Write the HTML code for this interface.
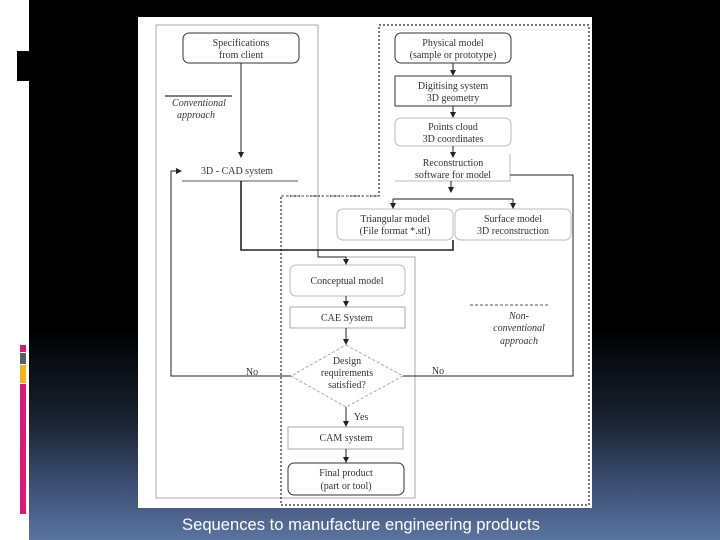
<!DOCTYPE html>
<html><head><meta charset="utf-8"><style>
html,body{margin:0;padding:0}
body{width:720px;height:540px;overflow:hidden;position:relative;background:#fff;font-family:"Liberation Serif",serif}
#bg{position:absolute;left:29px;top:0;width:691px;height:540px;background:linear-gradient(to bottom,#000 0px,#000 330px,#1a2230 420px,#3a4b6e 480px,#5a74a0 540px)}
.bar{position:absolute;left:20px;width:6px}
#cap{position:absolute;left:0;width:722px;top:515px;text-align:center;color:#fff;font-family:"Liberation Sans",sans-serif;font-size:16.6px}
svg{position:absolute;left:0;top:0}
text{font-family:"Liberation Serif",serif;font-size:10px;fill:#333;text-anchor:middle}
</style></head><body>
<div id="bg"></div>
<div style="position:absolute;left:17px;top:51px;width:12px;height:30px;background:#000"></div>
<div class="bar" style="top:345px;height:7px;background:#d81b77"></div>
<div class="bar" style="top:353px;height:11px;background:#5a5e66"></div>
<div class="bar" style="top:365px;height:18px;background:#f0b41e"></div>
<div class="bar" style="top:384px;height:130px;background:#d81b77"></div>
<svg width="720" height="540" viewBox="0 0 720 540">
<defs><marker id="a" markerWidth="6" markerHeight="6" refX="5" refY="3" orient="auto"><path d="M0,0L6,3L0,6z" fill="#222"/></marker></defs>
<rect x="138" y="17" width="454" height="491" fill="#fff"/>
<path d="M318,25H156V498H415V257H318V25" fill="none" stroke="#aaa" stroke-width="1"/>
<path d="M379,25H589V505H281V196H379Z" fill="none" stroke="#222" stroke-width="1.2" stroke-dasharray="2,2"/>
<path d="M281,196H379" fill="none" stroke="#777" stroke-dasharray="3,2"/>
<rect x="183" y="33" width="116" height="30" rx="6" fill="#fff" stroke="#333"/>
<text x="241" y="46">Specifications</text><text x="241" y="58">from client</text>
<rect x="395" y="33" width="116" height="30" rx="6" fill="#fff" stroke="#333"/>
<text x="453" y="46">Physical model</text><text x="453" y="58">(sample or prototype)</text>
<rect x="395" y="76" width="116" height="30" fill="#fff" stroke="#333"/>
<text x="453" y="89">Digitising system</text><text x="453" y="101">3D geometry</text>
<rect x="395" y="118" width="116" height="28" rx="6" fill="#fff" stroke="#bbb"/>
<text x="453" y="130">Points cloud</text><text x="453" y="142">3D coordinates</text>
<path d="M395,181H510V154" fill="none" stroke="#bbb"/>
<text x="453" y="166">Reconstruction</text><text x="453" y="178">software for model</text>
<rect x="337" y="209" width="116" height="31" rx="6" fill="#fff" stroke="#bbb"/>
<text x="395" y="222">Triangular model</text><text x="395" y="234">(File format *.stl)</text>
<rect x="455" y="209" width="116" height="31" rx="6" fill="#fff" stroke="#bbb"/>
<text x="513" y="222">Surface model</text><text x="513" y="234">3D reconstruction</text>
<rect x="290" y="265" width="115" height="31" rx="6" fill="#fff" stroke="#bbb"/>
<text x="347" y="284">Conceptual model</text>
<rect x="290" y="307" width="115" height="21" fill="#fff" stroke="#aaa"/>
<text x="347" y="321">CAE System</text>
<path d="M346,345L403,376L346,407L291,376Z" fill="#fff" stroke="#aaa" stroke-dasharray="3,2"/>
<text x="347" y="364">Design</text><text x="347" y="376">requirements</text><text x="347" y="388">satisfied?</text>
<rect x="288" y="427" width="115" height="22" fill="#fff" stroke="#aaa"/>
<text x="346" y="441">CAM system</text>
<rect x="288" y="463" width="116" height="32" rx="6" fill="#fff" stroke="#333"/>
<text x="346" y="476">Final product</text><text x="346" y="489">(part or tool)</text>
<text x="237" y="174">3D - CAD system</text>
<path d="M182,181H298" stroke="#555"/>
<path d="M165,96H232" stroke="#333" stroke-width="1.3"/>
<text x="199" y="106" style="font-style:italic">Conventional</text>
<text x="196" y="118" style="font-style:italic">approach</text>
<path d="M470,305H550" stroke="#555" stroke-dasharray="3,2"/>
<text x="519" y="319" style="font-style:italic">Non-</text>
<text x="519" y="331" style="font-style:italic">conventional</text>
<text x="519" y="344" style="font-style:italic">approach</text>
<g fill="none" stroke="#222" stroke-width="1">
<path d="M241,63V157" marker-end="url(#a)"/>
<path d="M453,63V75" marker-end="url(#a)"/>
<path d="M453,106V117" marker-end="url(#a)"/>
<path d="M453,146V157" marker-end="url(#a)"/>
<path d="M451,181V192" marker-end="url(#a)"/>
<path d="M393,199H513"/>
<path d="M393,199V208" marker-end="url(#a)"/>
<path d="M513,199V208" marker-end="url(#a)"/>
<path d="M510,175H573V376H403"/>
<path d="M291,376H171V171H181" marker-end="url(#a)"/>
<path d="M241,181V250H453V240" stroke-width="1.6"/>
<path d="M318,250V257H346V264" marker-end="url(#a)"/>
<path d="M346,296V306" marker-end="url(#a)"/>
<path d="M346,328V344" marker-end="url(#a)"/>
<path d="M346,407V426" marker-end="url(#a)"/>
<path d="M346,449V462" marker-end="url(#a)"/>
</g>
<text x="252" y="375">No</text><text x="438" y="374">No</text><text x="361" y="420">Yes</text>
</svg>
<div id="cap">Sequences to manufacture engineering products</div>
</body></html>
